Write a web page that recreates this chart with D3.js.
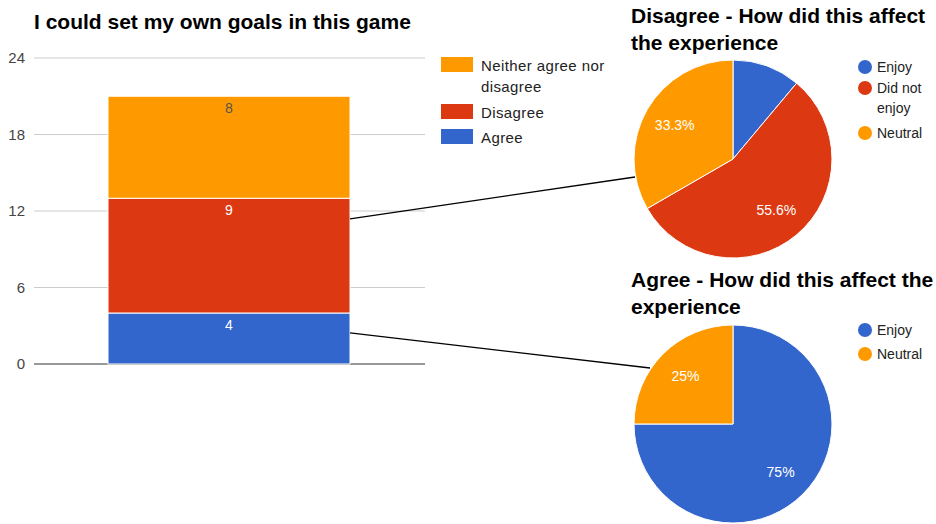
<!DOCTYPE html>
<html>
<head>
<meta charset="utf-8">
<script src="https://cdn.jsdelivr.net/npm/d3@7"></script>
<style>
  html, body { margin: 0; padding: 0; background: #fff; }
  svg { display: block; font-family: "Liberation Sans", Arial, sans-serif; }
</style>
</head>
<body>
<svg id="chart" width="936" height="524"></svg>
<script>
// Stacked bar: answers to "I could set my own goals in this game"
const barCategories = ["Agree", "Disagree", "Neither agree nor disagree"];
const barValues = [4, 9, 8];
const barColors = ["#3366cc", "#dc3912", "#ff9900"];
const yTicks = [0, 6, 12, 18, 24];

// Follow-up pies
const disagreeLabels = ["Enjoy", "Did not enjoy", "Neutral"];
const disagreeValues = [1, 5, 3];
const disagreeColors = ["#3366cc", "#dc3912", "#ff9900"];

const agreeLabels = ["Enjoy", "Neutral"];
const agreeValues = [3, 1];
const agreeColors = ["#3366cc", "#ff9900"];

const svg = d3.select("#chart");

// ---------- bar chart ----------
svg.append("text")
  .attr("x", 34).attr("y", 29)
  .attr("font-size", 21).attr("font-weight", "bold").attr("fill", "#000")
  .text("I could set my own goals in this game");

const y = d3.scaleLinear().domain([0, 24]).range([364, 58]);
const gridX0 = 34, gridX1 = 425;

const grid = svg.append("g");
yTicks.forEach(t => {
  grid.append("line")
    .attr("x1", gridX0).attr("x2", gridX1)
    .attr("y1", y(t)).attr("y2", y(t))
    .attr("stroke", t === 0 ? "#333" : "#ccc")
    .attr("stroke-width", 1);
});

const yAxis = d3.axisLeft(y).tickValues(yTicks).tickSize(0).tickPadding(0);
const axisG = svg.append("g").attr("transform", "translate(25,0)").call(yAxis);
axisG.select(".domain").remove();
axisG.selectAll("text")
  .attr("font-size", 15).attr("fill", "#444")
  .attr("font-family", "Liberation Sans, Arial, sans-serif");

const x = d3.scaleBand().domain(["all"]).range([108, 350]).padding(0);

let cum = 0;
const stacked = barValues.map((v, i) => {
  const s = { v, y0: cum, y1: cum + v, color: barColors[i], name: barCategories[i] };
  cum += v;
  return s;
});

const bx = x("all"), bw = x.bandwidth();
svg.append("g").selectAll("rect").data(stacked).join("rect")
  .attr("x", bx).attr("width", bw)
  .attr("y", d => y(d.y1)).attr("height", d => y(d.y0) - y(d.y1))
  .attr("fill", d => d.color)
  .attr("stroke", "#fff").attr("stroke-width", 1);

svg.append("g").selectAll("text").data(stacked).join("text")
  .attr("x", bx + bw / 2).attr("y", d => y(d.y1) + 17)
  .attr("text-anchor", "middle").attr("font-size", 14)
  .attr("fill", (d, i) => i === 2 ? "#555" : "#fff")
  .text(d => d.v);

// bar legend, top entry first
const legendRows = [
  { color: barColors[2], lines: ["Neither agree nor", "disagree"], y: 65 },
  { color: barColors[1], lines: ["Disagree"], y: 112 },
  { color: barColors[0], lines: ["Agree"], y: 137 }
];
const lg = svg.append("g");
legendRows.forEach(r => {
  lg.append("rect").attr("x", 441).attr("y", r.y - 8).attr("width", 32).attr("height", 15).attr("fill", r.color);
  r.lines.forEach((ln, k) => {
    lg.append("text").attr("x", 481).attr("y", r.y + 6 + k * 21)
      .attr("font-size", 15).attr("letter-spacing", 0.4).attr("fill", "#222").text(ln);
  });
});

// ---------- pies ----------
function drawPie(cfg) {
  const g = svg.append("g");
  cfg.title.forEach((t, k) => {
    g.append("text").attr("x", 631).attr("y", cfg.titleY + k * 27)
      .attr("font-size", 21).attr("font-weight", "bold").attr("fill", "#000").text(t);
  });
  const pie = d3.pie().sort(null).value(d => d)(cfg.values);
  const total = d3.sum(cfg.values);
  const arc = d3.arc().innerRadius(0).outerRadius(cfg.r);
  const labelArc = d3.arc().innerRadius(cfg.r * 0.68).outerRadius(cfg.r * 0.68);
  const pg = g.append("g").attr("transform", `translate(${cfg.cx},${cfg.cy})`);
  pg.selectAll("path").data(pie).join("path")
    .attr("d", arc).attr("fill", (d, i) => cfg.colors[i])
    .attr("stroke", "#fff").attr("stroke-width", 1);
  pg.selectAll("text").data(pie.filter(d => d.value / total > 0.15)).join("text")
    .attr("transform", d => `translate(${labelArc.centroid(d)})`)
    .attr("text-anchor", "middle").attr("dy", "0.35em")
    .attr("font-size", 14).attr("fill", "#fff")
    .text(d => {
      const p = d.value / total * 100;
      return (Math.round(p * 10) / 10) + "%";
    });
  cfg.legend.forEach((item, i) => {
    g.append("circle").attr("cx", 865).attr("cy", item.y).attr("r", 7).attr("fill", cfg.colors[i]);
    item.lines.forEach((ln, k) => {
      g.append("text").attr("x", 877).attr("y", item.y + 5 + k * 20)
        .attr("font-size", 14).attr("fill", "#222").text(ln);
    });
  });
}

drawPie({
  title: ["Disagree - How did this affect", "the experience"], titleY: 23,
  values: disagreeValues, colors: disagreeColors,
  cx: 733, cy: 159, r: 99,
  legend: [
    { lines: [disagreeLabels[0]], y: 67 },
    { lines: ["Did not", "enjoy"], y: 88 },
    { lines: [disagreeLabels[2]], y: 133 }
  ]
});

drawPie({
  title: ["Agree - How did this affect the", "experience"], titleY: 287,
  values: agreeValues, colors: agreeColors,
  cx: 733, cy: 424, r: 99,
  legend: [
    { lines: [agreeLabels[0]], y: 330 },
    { lines: [agreeLabels[1]], y: 354 }
  ]
});

// ---------- connectors from bar segments to their pies ----------
const barRight = bx + bw;
const links = [
  { from: [barRight, y(stacked[1].y0 + stacked[1].v * 0.82)], to: [635, 177] },
  { from: [barRight, y(stacked[0].y0 + stacked[0].v * 0.61)], to: [650, 368] }
];
svg.append("g").selectAll("line").data(links).join("line")
  .attr("x1", d => d.from[0]).attr("y1", d => d.from[1])
  .attr("x2", d => d.to[0]).attr("y2", d => d.to[1])
  .attr("stroke", "#000").attr("stroke-width", 1.3);
</script>
</body>
</html>
